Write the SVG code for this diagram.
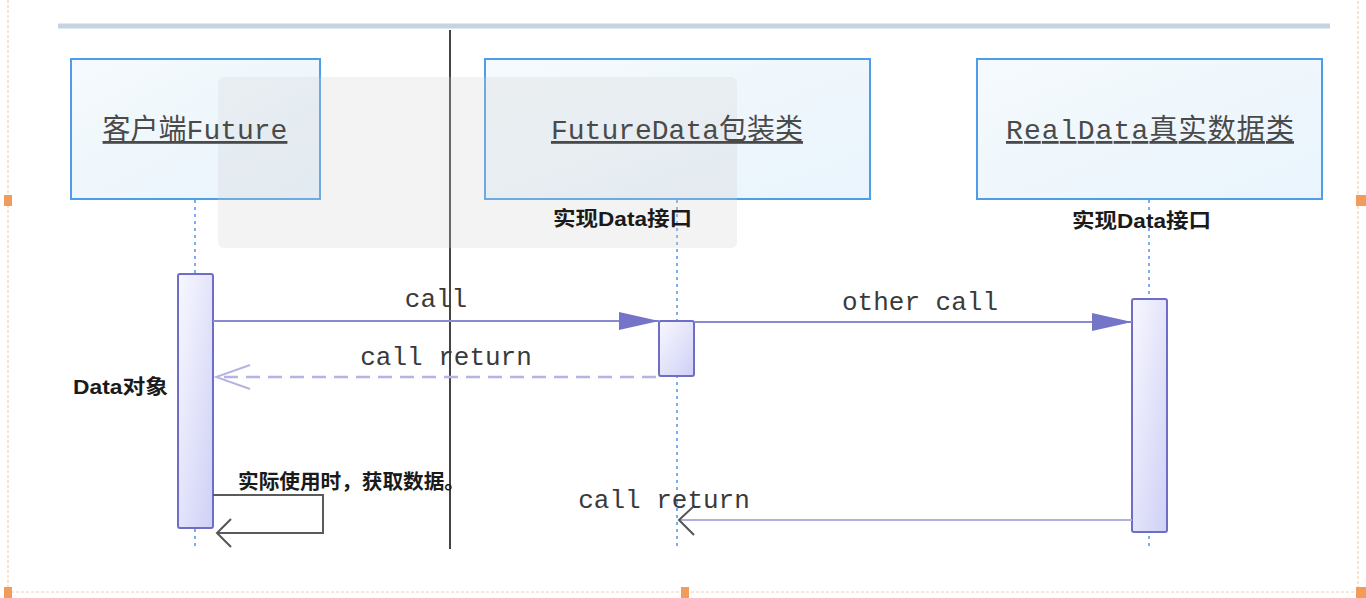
<svg xmlns="http://www.w3.org/2000/svg" width="1366" height="598" viewBox="0 0 1366 598">
<style>
.frame{fill:none;stroke:#f2cfae;stroke-width:1.2;stroke-dasharray:3 2}
.handle{fill:#f29c5c}
.box{fill:url(#boxg);stroke:#4d9de8;stroke-width:2}
.title{font-family:"Liberation Mono","Noto Sans CJK SC",monospace;font-size:28px;fill:#4a4a4a;text-decoration:underline;text-anchor:middle}
.life{stroke:#4f94e6;stroke-width:1.5;stroke-dasharray:3 4;fill:none}
.act{fill:url(#actg);stroke:#6e6ec6;stroke-width:2}
.note{font-family:"Liberation Sans","Noto Sans CJK SC",sans-serif;font-size:20px;font-weight:bold;fill:#1a1a1a}
.msg{font-family:"Liberation Mono","Noto Sans CJK SC",monospace;font-size:26px;fill:#3a3a3a;text-anchor:middle}
.call{stroke:#8a8ad4;stroke-width:2;fill:none}
.ret{stroke:#b4b4e2;stroke-width:2.5;fill:none;stroke-dasharray:14 8}
.ret2{stroke:#b0b0dc;stroke-width:2;fill:none}
.self{stroke:#5a5a5a;stroke-width:2;fill:none}
</style>
<defs>
<linearGradient id="boxg" x1="0" y1="0" x2="1" y2="1">
<stop offset="0" stop-color="#f5fafd"/>
<stop offset="1" stop-color="#e9f4fc"/>
</linearGradient>
<linearGradient id="actg" x1="0" y1="0" x2="1" y2="1">
<stop offset="0" stop-color="#f8f8ff"/>
<stop offset="1" stop-color="#cfd0f6"/>
</linearGradient>
<marker id="fill" viewBox="0 0 40 20" refX="40" refY="10" markerWidth="40" markerHeight="20" markerUnits="userSpaceOnUse" orient="auto">
<path d="M0,1 L40,10 L0,19 Z" fill="#7474c8"/>
</marker>
<marker id="openL" viewBox="0 0 40 30" refX="38" refY="15" markerWidth="40" markerHeight="30" markerUnits="userSpaceOnUse" orient="auto">
<path d="M4,3 L38,15 L4,27" fill="none" stroke="#b4b4e2" stroke-width="2"/>
</marker>
<marker id="openD" viewBox="0 0 20 32" refX="18" refY="16" markerWidth="20" markerHeight="32" markerUnits="userSpaceOnUse" orient="auto">
<path d="M4,2 L18,16 L4,30" fill="none" stroke="#555" stroke-width="2"/>
</marker>
</defs>
<rect width="1366" height="598" fill="#ffffff"/>

<!-- page frame -->
<g id="frame">
<path class="frame" d="M8,0 V592 H1358 V0"/>
<rect class="handle" x="4" y="195" width="8" height="11"/>
<rect class="handle" x="4" y="587" width="8" height="11"/>
<rect class="handle" x="681" y="587" width="8" height="11"/>
<rect class="handle" x="1356" y="195" width="10" height="11"/>
<rect class="handle" x="1356" y="587" width="10" height="11"/>
</g>

<!-- header line -->
<line x1="58" y1="26" x2="1330" y2="26" stroke="#c6d3e2" stroke-width="5"/>

<!-- divider -->
<line x1="450" y1="30" x2="450" y2="549" stroke="#444" stroke-width="2"/>

<g id="lifelines">
<line class="life" x1="195" y1="200" x2="195" y2="549"/>
<line class="life" x1="677" y1="200" x2="677" y2="549"/>
<line class="life" x1="1149" y1="200" x2="1149" y2="549"/>
</g>

<g id="client">
<rect class="box" x="71" y="59" width="249" height="140"/>
</g>
<g id="futuredata">
<rect class="box" x="485" y="59" width="385" height="140"/>
</g>
<g id="realdata">
<rect class="box" x="977" y="59" width="345" height="140"/>
</g>

<!-- faint overlay panel -->
<rect id="overlay" x="218" y="77" width="519" height="171" rx="6" fill="#d0d0d0" opacity="0.25"/>

<g id="node-labels">
<text class="title" x="195" y="139">客户端Future</text>
<text class="title" x="677" y="139">FutureData包装类</text>
<text class="note" x="553" y="226" textLength="139" lengthAdjust="spacingAndGlyphs">实现Data接口</text>
<text class="title" x="1150" y="139" textLength="288" lengthAdjust="spacing">RealData真实数据类</text>
<text class="note" x="1072" y="228" textLength="139" lengthAdjust="spacingAndGlyphs">实现Data接口</text>
</g>

<g id="activations">
<rect class="act" x="178" y="274" width="35" height="254" rx="2"/>
<rect class="act" x="659" y="321" width="35" height="55" rx="2"/>
<rect class="act" x="1132" y="299" width="35" height="233" rx="2"/>
</g>

<g id="connectors">
<line class="call" x1="213" y1="321" x2="659" y2="321" marker-end="url(#fill)"/>
<line class="call" x1="694" y1="322" x2="1132" y2="322" marker-end="url(#fill)"/>
<line class="ret" x1="656" y1="377" x2="216" y2="377" marker-end="url(#openL)"/>
<path class="self" d="M213,495 H323 V533 H217" marker-end="url(#openD)"/>
<line class="ret2" x1="1132" y1="520" x2="680" y2="520"/>
<path d="M694,506 L679,520 L694,535" fill="none" stroke="#555" stroke-width="2"/>
</g>

<g id="labels">
<text class="msg" x="436" y="307">call</text>
<text class="msg" x="920" y="310">other call</text>
<text class="msg" x="446" y="365">call return</text>
<text class="msg" x="664" y="508">call return</text>
<text class="note" x="73" y="394" textLength="95" lengthAdjust="spacingAndGlyphs">Data对象</text>
<text class="note" x="238" y="489" textLength="227" lengthAdjust="spacingAndGlyphs">实际使用时，获取数据。</text>
</g>
</svg>
